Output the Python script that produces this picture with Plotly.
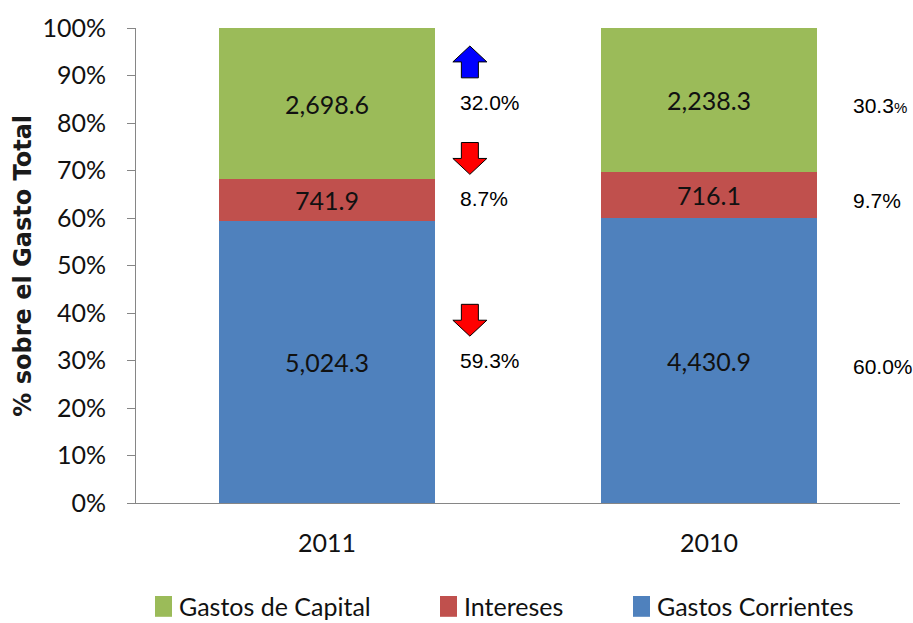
import plotly.graph_objects as go

# ---------------- data ----------------
years = ["2011", "2010"]
series_names = ["Gastos Corrientes", "Intereses", "Gastos de Capital"]
gastos_corrientes = [5024.3, 4430.9]
intereses = [741.9, 716.1]
gastos_capital = [2698.6, 2238.3]
pct_2011 = [59.3, 8.7, 32.0]
pct_2010 = [60.0, 9.7, 30.3]
arrows_2011 = ["down", "down", "up"]   # change vs 2010, per series
colors = ["#4F81BD", "#C0504D", "#9BBB59"]
legend_order = [2, 1, 0]
y_ticks = list(range(0, 101, 10))
y_ticklabels = [f"{v}%" for v in y_ticks]

series_values = [gastos_corrientes, intereses, gastos_capital]
x_pos = list(range(len(years)))

LABEL_FONT = "Lato, Carlito, Calibri, sans-serif"
TXT = "#111111"

fig = go.Figure()
for name, vals, col in zip(series_names, series_values, colors):
    fig.add_trace(go.Bar(
        x=x_pos, y=vals, name=name, marker=dict(color=col, line=dict(width=0)),
        text=[f"{v:,.1f}" for v in vals], textposition="inside",
        insidetextanchor="middle", textangle=0,
        textfont=dict(family=LABEL_FONT, size=25, color=TXT),
        width=0.565, showlegend=False,
    ))

# segment centres (percent) computed from data
totals = [sum(s[i] for s in series_values) for i in x_pos]
centers = []
for i in x_pos:
    acc = 0
    c = []
    for s in series_values:
        p = s[i] / totals[i] * 100
        c.append(acc + p / 2)
        acc += p
    centers.append(c)

annotations = []
shapes = []
# percentage labels
label_dx = [0.343, 0.372]
label_dy = [0.3, -1.2]
for i, pcts in enumerate([pct_2011, pct_2010]):
    for k, p in enumerate(pcts):
        y = centers[i][k] + label_dy[i]
        txt = f"{p:.1f}%"
        if i == 1 and k == 2:
            txt = f"{p:.1f}<span style='font-size:15px'>%</span>"
        annotations.append(dict(
            x=x_pos[i] + label_dx[i], y=y, xref="x", yref="y", text=txt, showarrow=False,
            xanchor="left", yanchor="middle",
            font=dict(family="Liberation Sans, Arial, sans-serif", size=21, color="#000"),
        ))

# direction arrows (2011)
hw = 0.0445   # half width (x units)
h = 6.7       # height (y units)
for k, d in enumerate(arrows_2011):
    cx = x_pos[0] + 0.374
    cy = centers[0][k] + label_dy[0] + 8.5
    sw = hw * 0.5
    top, bot = cy + h / 2, cy - h / 2
    if d == "up":
        neck = top - h * 0.5
        xs = [cx, cx + hw, cx + sw, cx + sw, cx - sw, cx - sw, cx - hw, cx]
        ys = [top, neck, neck, bot, bot, neck, neck, top]
        fc = "#0000FF"
    else:
        neck = bot + h * 0.5
        xs = [cx, cx + hw, cx + sw, cx + sw, cx - sw, cx - sw, cx - hw, cx]
        ys = [bot, neck, neck, top, top, neck, neck, bot]
        fc = "#FF0000"
    fig.add_trace(go.Scatter(
        x=xs, y=ys, mode="lines", fill="toself", fillcolor=fc,
        line=dict(color="#000000", width=1), showlegend=False, hoverinfo="skip",
    ))

# y-axis title
annotations.append(dict(
    x=-0.149, y=0.50, xref="paper", yref="paper", text="<b>% sobre el Gasto Total</b>",
    textangle=-90, showarrow=False, xanchor="center", yanchor="middle",
    font=dict(family="DejaVu Sans, Verdana, sans-serif", size=24, color="#1a1a1a"),
))

# manual legend
W = 764.0
H = 480.0
B = 503.0
legend_px = [155, 440, 633]
for slot, idx in enumerate(legend_order):
    x0 = (legend_px[slot] - 136) / W
    x1 = (legend_px[slot] + 17 - 136) / W
    shapes.append(dict(type="rect", xref="paper", yref="paper",
                       x0=x0, x1=x1, y0=(B - 618) / H, y1=(B - 597) / H,
                       fillcolor=colors[idx], line=dict(width=0)))
    annotations.append(dict(
        x=(legend_px[slot] + 22 - 136) / W, y=(B - 607) / H, xref="paper", yref="paper",
        text=series_names[idx], showarrow=False, xanchor="left", yanchor="middle",
        font=dict(family=LABEL_FONT, size=25, color=TXT),
    ))

fig.update_layout(
    barmode="stack", barnorm="percent",
    width=913, height=623,
    margin=dict(l=136, r=13, t=23, b=120),
    plot_bgcolor="white", paper_bgcolor="white",
    annotations=annotations, shapes=shapes,
    uniformtext=dict(mode=False),
)
fig.update_traces(constraintext="none", selector=dict(type="bar"))
fig.update_xaxes(
    range=[-0.5, 1.5], tickvals=x_pos, ticktext=years, showgrid=False, zeroline=False,
    showline=True, linecolor="#868686", linewidth=1, ticks="",
    tickfont=dict(family=LABEL_FONT, size=25, color=TXT), ticklabelstandoff=18,
)
fig.update_yaxes(
    range=[0, 100], tickvals=y_ticks, ticktext=y_ticklabels,
    showgrid=False, zeroline=False, showline=True, linecolor="#868686", linewidth=1,
    ticks="outside", ticklen=8, tickcolor="#868686",
    tickfont=dict(family=LABEL_FONT, size=25, color=TXT), ticklabelstandoff=16,
)

fig.write_html("out.html", config={"displayModeBar": False},
               post_script="document.body.style.margin='0';document.body.style.overflow='hidden';")
